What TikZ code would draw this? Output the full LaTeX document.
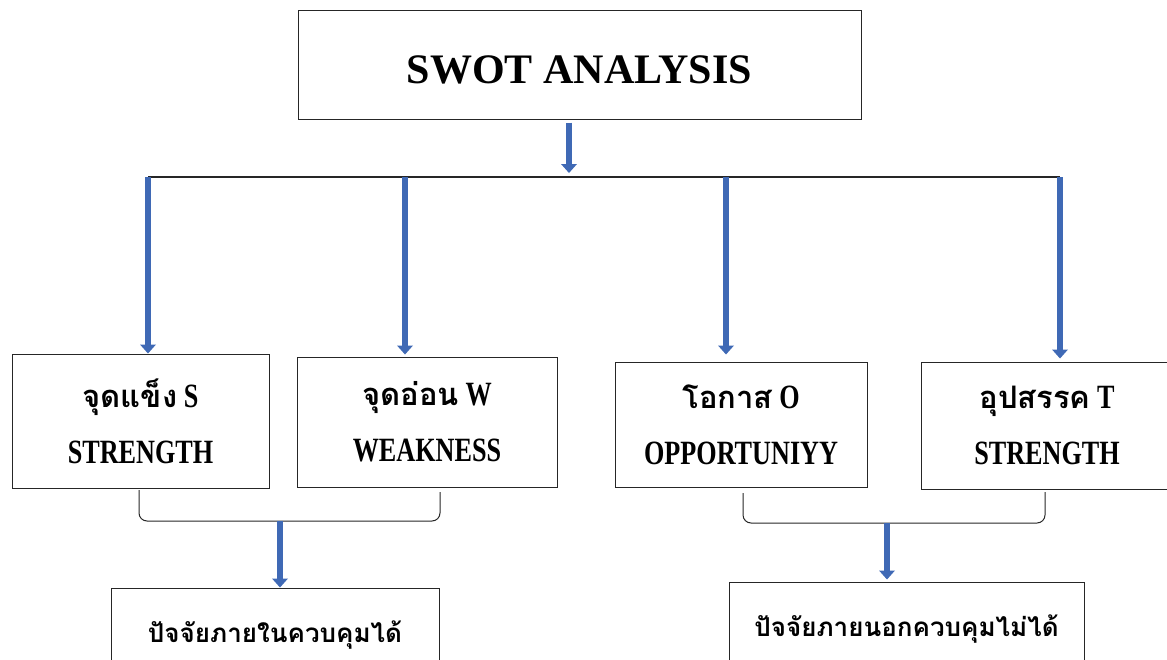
\documentclass[tikz,border=0pt]{standalone}
\usepackage{fontspec}
\setmainfont{Liberation Serif}
\newfontfamily\thaifont[Script=Thai]{Loma}
\newfontfamily\narrowfont[FakeStretch=0.77]{Liberation Serif}
\usetikzlibrary{arrows.meta}
\definecolor{arrowblue}{HTML}{3F69B5}
\definecolor{edgegray}{HTML}{262626}
\newcommand{\thaitop}[1]{{\thaifont\fontsize{31}{56}\selectfont #1}}

\begin{document}
\begin{tikzpicture}[x=1pt,y=-1pt,
		box/.style={draw=edgegray,line width=1pt,inner sep=0pt,align=center},
		pair/.style={box,font=\fontsize{34}{56}\selectfont\narrowfont\bfseries},
		result/.style={box,anchor=base,font=\fontsize{26}{34}\selectfont\thaifont\bfseries,text height=44pt,text depth=62pt,inner ysep=10pt},
		bluearrow/.style={draw=arrowblue,line width=6.5pt,-{Triangle[width=16pt,length=9pt,line width=0pt]}},
		linkline/.style={draw=edgegray,line width=1.3pt},
		bracket/.style={draw=edgegray,line width=1pt,rounded corners=8pt}]
				\useasboundingbox (0,0) rectangle (1167,659);
				\clip (0,0) rectangle (1167,659);

				% Title
				\node[box,minimum width=563pt,minimum height=109pt,text height=40pt,text depth=3pt,font=\fontsize{42}{50}\selectfont\bfseries] (swot) at (579.5,64.5) {SWOT ANALYSIS};

				% Four factors
				\node[pair,minimum width=257pt,minimum height=134pt] (S) at (140.5,421) {\thaitop{จุดแข็ง} S\\STRENGTH};
				\node[pair,minimum width=260pt,minimum height=130pt] (W) at (427,422) {\thaitop{จุดอ่อน} W\\WEAKNESS};
				\node[pair,minimum width=252pt,minimum height=125pt] (O) at (741,424.5) {\thaitop{โอกาส} O\\OPPORTUNIYY};
				\node[pair,minimum width=252pt,minimum height=127pt] (T) at (1047,425.5) {\thaitop{อุปสรรค} T\\STRENGTH};

				% Results
				\node[result,minimum width=328pt] (inside) at (275,642) {ปัจจัยภายในควบคุมได้};
				\node[result,minimum width=355pt] (outside) at (906.5,636) {ปัจจัยภายนอกควบคุมไม่ได้};

				% Branch line
				\coordinate (hS) at (148,177);
				\coordinate (hW) at (405,177);
				\coordinate (hub) at (569,177);
				\coordinate (hO) at (726,177);
				\coordinate (hT) at (1060,177);
				\draw[linkline] (hS) -- (hT);
				\draw[bluearrow,shorten <=3pt,shorten >=4pt] (swot.south -| hub) -- (hub);
				\draw[bluearrow] (hS) -- (hS |- S.north);
				\draw[bluearrow,shorten >=2pt] (hW) -- (hW |- W.north);
				\draw[bluearrow,shorten >=7pt] (hO) -- (hO |- O.north);
				\draw[bluearrow,shorten >=3pt] (hT) -- (hT |- T.north);

				% Brackets
				\coordinate (brL) at (280,521);
				\coordinate (brR) at (887,523);
				\draw[bracket] (139,490) -- (139,521) -- (440,521) -- (440,492);
				\draw[bracket] (743,493) -- (743,523) -- (1045,523) -- (1045,492);
				\draw[bluearrow] (brL) -- (brL |- inside.north);
				\draw[bluearrow,shorten >=2pt] (brR) -- (brR |- outside.north);
			\end{tikzpicture}
\end{document}
